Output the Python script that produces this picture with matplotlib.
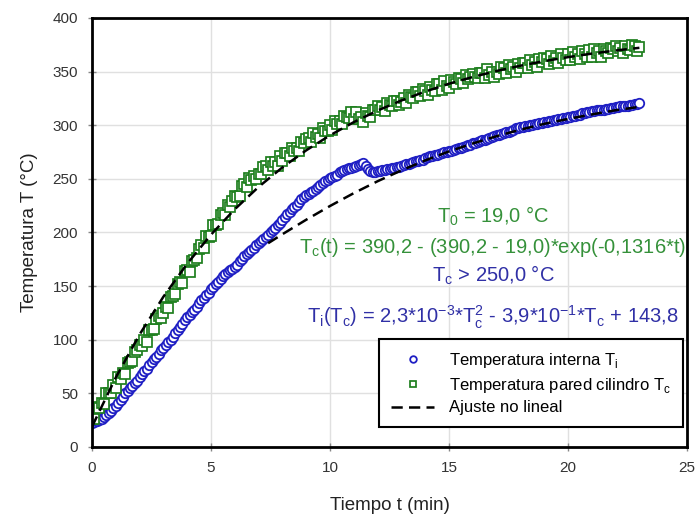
import numpy as np
import matplotlib
matplotlib.use("Agg")
from matplotlib import pyplot as plt

plt.rcParams['font.family'] = ['Liberation Sans', 'DejaVu Sans']
plt.rcParams['mathtext.fontset'] = 'custom'
plt.rcParams['mathtext.rm'] = 'Liberation Sans'

# sample times (min), one reading every 0.1 min
tiempo = np.round(np.arange(231) * 0.1, 1)

# internal temperature T_i (degC) (one row = 1 min)
temp_interna = [22, 23, 24, 25, 26, 28, 30, 32, 34, 36,
                38, 41, 44, 47, 50, 52, 55, 57, 60, 62,
                65, 68, 71, 73, 76, 79, 82, 84, 87, 90,
                92, 95, 98, 100, 103, 106, 109, 112, 115, 118,
                121, 123, 126, 128, 131, 134, 137, 139, 142, 144,
                147, 149, 152, 154, 157, 159, 161, 163, 165, 166,
                168, 170, 173, 175, 178, 180, 182, 184, 186, 188,
                190, 192, 194, 196, 198, 200, 202, 204, 207, 209,
                212, 214, 217, 219, 222, 224, 226, 228, 231, 233,
                235, 236, 238, 239, 241, 242, 244, 246, 248, 249,
                251, 252, 253, 254, 256, 257, 258, 259, 260, 260,
                261, 262, 263, 264, 265, 262, 259, 257, 256, 256,
                257, 257, 258, 258, 259, 259, 260, 260, 261, 261,
                262, 263, 264, 264, 265, 266, 267, 267, 268, 268,
                269, 270, 271, 271, 272, 272, 273, 274, 275, 275,
                276, 276, 277, 278, 279, 279, 280, 281, 282, 282,
                283, 283, 284, 285, 286, 286, 287, 288, 289, 290,
                291, 291, 292, 293, 294, 294, 295, 296, 297, 297,
                298, 298, 299, 299, 300, 300, 301, 301, 302, 302,
                303, 303, 304, 304, 305, 305, 306, 306, 307, 307,
                308, 308, 309, 309, 310, 310, 311, 311, 312, 312,
                313, 313, 314, 314, 314, 314, 315, 315, 316, 316,
                317, 317, 318, 318, 318, 318, 319, 319, 320, 320,
                321]

# cylinder wall temperature T_c (degC), noisy readings
temp_pared = [26, 26, 37, 36, 41, 40, 50, 50, 50, 58,
              55, 65, 63, 69, 68, 78, 79, 80, 89, 90,
              95, 94, 100, 98, 109, 109, 110, 119, 122, 120,
              125, 131, 130, 140, 141, 143, 152, 154, 153, 164,
              165, 163, 173, 174, 176, 185, 188, 186, 197, 196,
              197, 207, 207, 208, 216, 218, 216, 226, 224, 229,
              234, 233, 234, 243, 245, 242, 251, 249, 253, 250,
              255, 255, 261, 262, 258, 266, 262, 266, 262, 271,
              267, 274, 274, 271, 279, 276, 279, 276, 284, 283,
              287, 288, 284, 293, 289, 292, 288, 297, 295, 295,
              300, 296, 304, 301, 304, 301, 309, 308, 307, 312,
              306, 312, 306, 308, 303, 311, 309, 308, 314, 314,
              318, 314, 317, 313, 321, 319, 318, 323, 323, 319,
              322, 325, 321, 328, 326, 325, 331, 331, 327, 334,
              332, 328, 336, 333, 332, 338, 338, 333, 341, 337,
              335, 342, 340, 338, 344, 343, 339, 347, 343, 345,
              348, 345, 344, 349, 349, 344, 352, 347, 350, 345,
              350, 348, 354, 353, 349, 356, 352, 354, 350, 357,
              353, 358, 358, 353, 361, 356, 359, 354, 362, 359,
              363, 362, 357, 365, 360, 363, 358, 366, 363, 361,
              366, 361, 368, 364, 366, 362, 369, 366, 364, 370,
              364, 371, 367, 369, 364, 371, 369, 367, 372, 371,
              374, 369, 372, 367, 374, 371, 370, 375, 374, 369,
              373]

# non linear fits (dashed)
ajuste_t = [0, 1, 2, 3, 4, 5, 6, 7, 8, 9, 10, 11, 12, 13, 14, 15, 16, 17, 18, 19, 20, 21, 22, 23]
ajuste_pared = [19.0, 64.8, 104.9, 140.1, 170.9, 198.0, 221.7, 242.5, 260.7, 276.6, 290.6, 302.9,
                313.7, 323.1, 331.4, 338.7, 345.0, 350.6, 355.5, 359.8, 363.5, 366.8, 369.7, 372.2]
ajuste_ti_t = [7.4, 8, 9, 10, 11, 12, 13, 14, 15, 16, 17, 18, 19, 20, 21, 22, 23]
ajuste_interna = [190.0, 198.4, 211.9, 224.7, 236.7, 247.8, 257.9, 267.2, 275.6, 283.0, 289.8,
                  295.9, 301.3, 305.9, 310.1, 314.0, 317.2]

azul = '#1f1fc4'
verde = '#1e7f1e'
txt_verde = '#35913a'
txt_azul = '#3030a6'

fig = plt.figure(figsize=(6.98, 5.18), dpi=100)
ax = fig.add_axes([92/698, 71/518, 595/698, 429/518])

l_int, = ax.plot(tiempo, temp_interna, linestyle='none', marker='o', ms=6.8,
                 mfc='white', mec=azul, mew=1.3, label=r'Temperatura interna T$_\mathregular{i}$')
l_par, = ax.plot(tiempo, temp_pared, linestyle='none', marker='s', ms=6.6,
                 mfc='white', mec=verde, mew=1.25, label=r'Temperatura pared cilindro T$_\mathregular{c}$')
l_fit, = ax.plot(ajuste_t, ajuste_pared, color='black', lw=1.8, dashes=(4.5, 2.5),
                 label='Ajuste no lineal')
ax.plot(ajuste_ti_t, ajuste_interna, color='black', lw=1.8, dashes=(4.5, 2.5))

ax.set_xlim(0, 25)
ax.set_ylim(0, 400)
ax.set_xticks(range(0, 26, 5))
ax.set_yticks(range(0, 401, 50))
ax.grid(True, color='#e0e0e0', lw=1)
ax.set_axisbelow(True)
for s in ax.spines.values():
    s.set_linewidth(2)
    s.set_color('black')
ax.tick_params(direction='inout', length=6, width=1, color='#888888',
               labelsize=11, labelcolor='#333333', pad=7)

ax.set_xlabel('Tiempo t (min)', fontsize=13.5, color='#222222')
ax.set_ylabel('Temperatura T (°C)', fontsize=13.5, color='#222222')
ax.xaxis.set_label_coords(0.5, -0.117)
ax.yaxis.set_label_coords(-0.091, 0.5)

# fit equations
xc = 16.85
fs = 14.5
ax.text(xc, 208.9, r'T$_\mathregular{0}$ = 19,0 °C', ha='center', va='baseline',
        fontsize=fs, color=txt_verde)
ax.text(xc, 180.9, r'T$_\mathregular{c}$(t) = 390,2 - (390,2 - 19,0)*exp(-0,1316*t)',
        ha='center', va='baseline', fontsize=fs, color=txt_verde)
ax.text(xc, 153.8, r'T$_\mathregular{c}$ > 250,0 °C', ha='center', va='baseline',
        fontsize=fs, color=txt_azul)
ax.text(xc, 115.6, r'T$_\mathregular{i}$(T$_\mathregular{c}$) = 2,3*10$^\mathregular{-3}$*'
        r'T$_\mathregular{c}^\mathregular{2}$ - 3,9*10$^\mathregular{-1}$*T$_\mathregular{c}$ + 143,8',
        ha='center', va='baseline', fontsize=fs, color=txt_azul)

leg = ax.legend(handles=[l_int, l_par, l_fit], loc='lower right',
                bbox_to_anchor=(0.9933, 0.0466), borderaxespad=0, fontsize=12,
                frameon=True, fancybox=False, framealpha=1, edgecolor='black',
                handlelength=2.6, handletextpad=0.9, borderpad=0.7,
                labelspacing=0.35, markerscale=0.7)
leg.get_frame().set_linewidth(1.5)

fig.savefig('out.png', dpi=100)
